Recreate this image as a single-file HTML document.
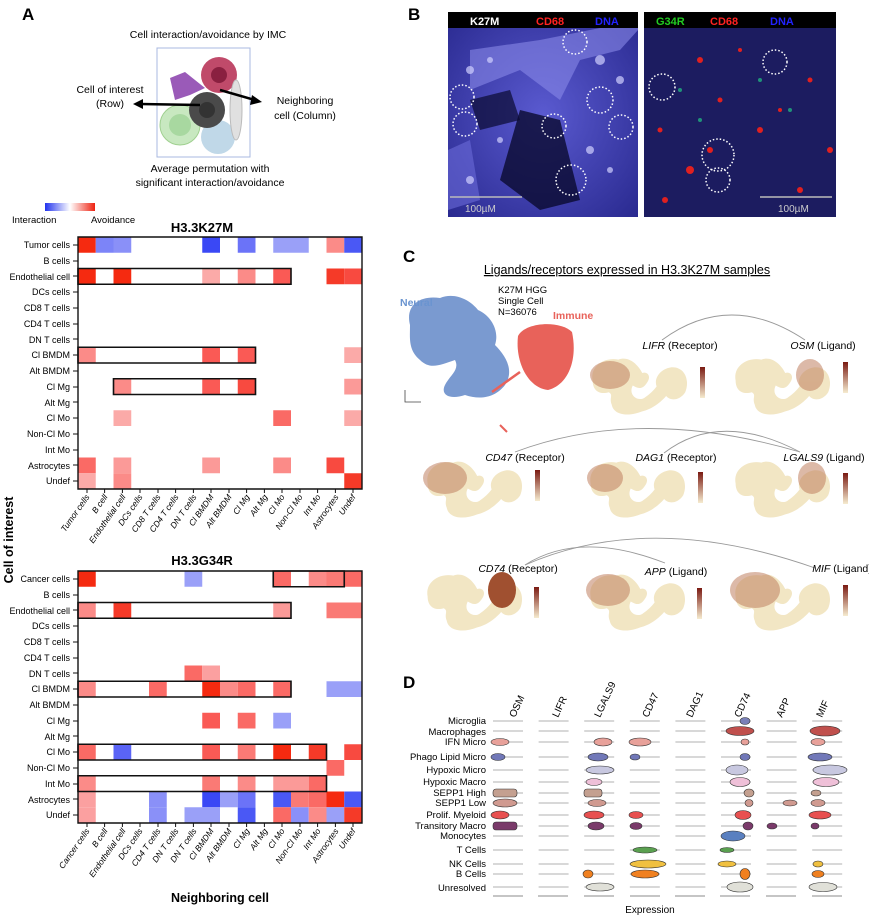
<!DOCTYPE html>
<html><head><meta charset="utf-8"><style>
body{margin:0;background:#fff;}
svg{display:block;font-family:"Liberation Sans",Arial,sans-serif;}
.rl{font-size:9px;text-anchor:end;}
.xl{font-size:8.5px;font-style:italic;text-anchor:end;}
</style></head><body>
<svg width="869" height="919" viewBox="0 0 869 919" xmlns="http://www.w3.org/2000/svg">
<defs>
<linearGradient id="lg" x1="0" x2="1"><stop offset="0" stop-color="#2233ee"/><stop offset="0.5" stop-color="#fff"/><stop offset="1" stop-color="#ee2211"/></linearGradient>
<linearGradient id="cb" x1="0" y1="1" x2="0" y2="0"><stop offset="0" stop-color="#f6ecd0"/><stop offset="1" stop-color="#7a1a12"/></linearGradient>
<radialGradient id="b1" cx="0.5" cy="0.5" r="0.7"><stop offset="0" stop-color="#5a5ad0"/><stop offset="1" stop-color="#2a2a90"/></radialGradient>
<symbol id="um" viewBox="0 0 110 70" preserveAspectRatio="none"><path d="M8 30 C5 15 20 5 35 8 C45 4 55 12 60 22 C65 20 70 25 65 32 C60 40 55 38 50 35 C45 45 55 52 62 48 C68 44 72 40 75 36 C72 28 78 18 90 16 C105 15 110 30 105 42 C100 50 90 52 85 46 C80 52 70 60 60 62 C45 68 30 66 28 55 C25 48 30 45 25 42 C15 45 8 40 8 30Z"/></symbol>
</defs>

<!-- Panel A top -->
<text x="22" y="20" font-size="17" font-weight="bold">A</text>
<text x="208" y="38" font-size="10.5" text-anchor="middle">Cell interaction/avoidance by IMC</text>
<rect x="157" y="48" width="93" height="109" fill="#fff" stroke="#a8b8e0" stroke-width="1"/>
<path d="M170 78 L185 72 L195 80 L205 88 L190 95 L175 100 Z" fill="#9a5ab8"/>
<circle cx="219" cy="75" r="18" fill="#c04a6a"/><circle cx="219" cy="75" r="8" fill="#8a2040"/>
<circle cx="180" cy="125" r="20" fill="#c8e8c0" stroke="#a0d090"/><circle cx="180" cy="125" r="11" fill="#a8d8a0"/>
<circle cx="218" cy="137" r="17" fill="#c0d8e8"/>
<ellipse cx="236" cy="110" rx="6" ry="30" fill="#e0e0e0" stroke="#bbb"/>
<circle cx="207" cy="110" r="18" fill="#4a4a4a"/><circle cx="207" cy="110" r="8" fill="#333"/>
<line x1="200" y1="105" x2="140" y2="104" stroke="#000" stroke-width="2.5"/><path d="M133 104 L143 99 L143 109Z"/>
<line x1="220" y1="90" x2="255" y2="100" stroke="#000" stroke-width="2.5"/><path d="M262 102 L252 95 L250 105Z"/>
<text x="110" y="93" font-size="10.5" text-anchor="middle">Cell of interest</text>
<text x="110" y="107" font-size="10.5" text-anchor="middle">(Row)</text>
<text x="305" y="104" font-size="10.5" text-anchor="middle">Neighboring</text>
<text x="305" y="119" font-size="10.5" text-anchor="middle">cell (Column)</text>
<text x="210" y="172" font-size="10.5" text-anchor="middle">Average permutation with</text>
<text x="210" y="186" font-size="10.5" text-anchor="middle">significant interaction/avoidance</text>

<!-- legend -->
<rect x="45" y="203" width="50" height="8" fill="url(#lg)"/>
<text x="12" y="223" font-size="9.5">Interaction</text>
<text x="91" y="223" font-size="9.5">Avoidance</text>
<text x="202" y="232" font-size="13" font-weight="bold" text-anchor="middle">H3.3K27M</text>
<text x="202" y="565" font-size="13" font-weight="bold" text-anchor="middle">H3.3G34R</text>

<!-- heatmap 1 -->
<g transform="translate(78,237) scale(17.75,15.75)">
<rect x="0" y="0" width="16" height="16" fill="#fff"/>
<rect x="0" y="0" width="1" height="1" fill="#f52a10"/><rect x="1" y="0" width="1" height="1" fill="#7c84f8"/><rect x="2" y="0" width="1" height="1" fill="#8a90f8"/><rect x="7" y="0" width="1" height="1" fill="#3a48f5"/><rect x="9" y="0" width="1" height="1" fill="#6b73f8"/><rect x="11" y="0" width="2" height="1" fill="#9aa0f8"/><rect x="14" y="0" width="1" height="1" fill="#fb8b88"/><rect x="15" y="0" width="1" height="1" fill="#4a58f5"/>
<rect x="0" y="2" width="1" height="1" fill="#f52a10"/><rect x="2" y="2" width="1" height="1" fill="#f52a10"/><rect x="7" y="2" width="1" height="1" fill="#fbaaa8"/><rect x="9" y="2" width="1" height="1" fill="#fb8b88"/><rect x="11" y="2" width="1" height="1" fill="#fa5a55"/><rect x="14" y="2" width="1" height="1" fill="#f53a28"/><rect x="15" y="2" width="1" height="1" fill="#f84a40"/>
<rect x="0" y="7" width="1" height="1" fill="#fb8b88"/><rect x="7" y="7" width="1" height="1" fill="#fa5a55"/><rect x="9" y="7" width="1" height="1" fill="#fa5a55"/><rect x="15" y="7" width="1" height="1" fill="#fbaaa8"/>
<rect x="2" y="9" width="1" height="1" fill="#fb8b88"/><rect x="7" y="9" width="1" height="1" fill="#fa5a55"/><rect x="9" y="9" width="1" height="1" fill="#f84a40"/><rect x="15" y="9" width="1" height="1" fill="#fb9a98"/>
<rect x="2" y="11" width="1" height="1" fill="#fbaaa8"/><rect x="11" y="11" width="1" height="1" fill="#fa6a65"/><rect x="15" y="11" width="1" height="1" fill="#fbaaa8"/>
<rect x="0" y="14" width="1" height="1" fill="#fa6a65"/><rect x="2" y="14" width="1" height="1" fill="#fb9a98"/><rect x="7" y="14" width="1" height="1" fill="#fb9a98"/><rect x="11" y="14" width="1" height="1" fill="#fb8b88"/><rect x="14" y="14" width="1" height="1" fill="#f84a40"/>
<rect x="0" y="15" width="1" height="1" fill="#fbaaa8"/><rect x="2" y="15" width="1" height="1" fill="#fb8b88"/><rect x="15" y="15" width="1" height="1" fill="#f53a28"/>
<g fill="none" stroke="#111">
<rect x="0" y="0" width="16" height="16" vector-effect="non-scaling-stroke" stroke-width="1.4"/>
<rect x="0" y="2" width="12" height="1" vector-effect="non-scaling-stroke" stroke-width="1.6"/>
<rect x="0" y="7" width="10" height="1" vector-effect="non-scaling-stroke" stroke-width="1.6"/>
<rect x="2" y="9" width="8" height="1" vector-effect="non-scaling-stroke" stroke-width="1.6"/>
</g></g>

<!-- heatmap 2 -->
<g transform="translate(78,571) scale(17.75,15.75)">
<rect x="0" y="0" width="16" height="16" fill="#fff"/>
<rect x="0" y="0" width="1" height="1" fill="#f52a10"/><rect x="6" y="0" width="1" height="1" fill="#9aa0f8"/><rect x="11" y="0" width="1" height="1" fill="#fa6a65"/><rect x="13" y="0" width="1" height="1" fill="#fb8b88"/><rect x="14" y="0" width="1" height="1" fill="#fa7a75"/><rect x="15" y="0" width="1" height="1" fill="#fa6a65"/>
<rect x="0" y="2" width="1" height="1" fill="#fb8b88"/><rect x="2" y="2" width="1" height="1" fill="#f53a28"/><rect x="11" y="2" width="1" height="1" fill="#fb9a98"/><rect x="14" y="2" width="2" height="1" fill="#fa7a75"/>
<rect x="6" y="6" width="1" height="1" fill="#fa6a65"/><rect x="7" y="6" width="1" height="1" fill="#fba0a0"/>
<rect x="0" y="7" width="1" height="1" fill="#fb8b88"/><rect x="4" y="7" width="1" height="1" fill="#fa6a65"/><rect x="7" y="7" width="1" height="1" fill="#f52a10"/><rect x="8" y="7" width="1" height="1" fill="#fb8b88"/><rect x="9" y="7" width="1" height="1" fill="#fa6a65"/><rect x="11" y="7" width="1" height="1" fill="#fa6a65"/><rect x="14" y="7" width="2" height="1" fill="#9aa0f8"/>
<rect x="7" y="9" width="1" height="1" fill="#fa5a55"/><rect x="9" y="9" width="1" height="1" fill="#fa6a65"/><rect x="11" y="9" width="1" height="1" fill="#9aa0f8"/>
<rect x="0" y="11" width="1" height="1" fill="#fa6a65"/><rect x="2" y="11" width="1" height="1" fill="#5a64f6"/><rect x="7" y="11" width="1" height="1" fill="#fa5a55"/><rect x="9" y="11" width="1" height="1" fill="#fb7a75"/><rect x="11" y="11" width="1" height="1" fill="#f52a10"/><rect x="13" y="11" width="1" height="1" fill="#f53a28"/><rect x="15" y="11" width="1" height="1" fill="#f84a40"/>
<rect x="14" y="12" width="1" height="1" fill="#fa6a65"/>
<rect x="0" y="13" width="1" height="1" fill="#fb8b88"/><rect x="7" y="13" width="1" height="1" fill="#fa7a75"/><rect x="9" y="13" width="1" height="1" fill="#fb8b88"/><rect x="11" y="13" width="2" height="1" fill="#fb9a98"/><rect x="13" y="13" width="1" height="1" fill="#fa6a65"/>
<rect x="0" y="14" width="1" height="1" fill="#fba0a0"/><rect x="4" y="14" width="1" height="1" fill="#8a90f8"/><rect x="7" y="14" width="1" height="1" fill="#3a48f5"/><rect x="8" y="14" width="1" height="1" fill="#9aa0f8"/><rect x="9" y="14" width="1" height="1" fill="#6b73f8"/><rect x="11" y="14" width="1" height="1" fill="#4a58f5"/><rect x="12" y="14" width="1" height="1" fill="#fa7a75"/><rect x="13" y="14" width="1" height="1" fill="#fa6a65"/><rect x="14" y="14" width="1" height="1" fill="#f52a10"/><rect x="15" y="14" width="1" height="1" fill="#4a58f5"/>
<rect x="0" y="15" width="1" height="1" fill="#fba0a0"/><rect x="4" y="15" width="1" height="1" fill="#8a90f8"/><rect x="6" y="15" width="2" height="1" fill="#9aa0f8"/><rect x="9" y="15" width="1" height="1" fill="#4a58f5"/><rect x="11" y="15" width="1" height="1" fill="#fa6a65"/><rect x="12" y="15" width="1" height="1" fill="#8a90f8"/><rect x="13" y="15" width="1" height="1" fill="#fb8b88"/><rect x="14" y="15" width="1" height="1" fill="#9aa0f8"/><rect x="15" y="15" width="1" height="1" fill="#f53a28"/>
<g fill="none" stroke="#111">
<rect x="0" y="0" width="16" height="16" vector-effect="non-scaling-stroke" stroke-width="1.4"/>
<rect x="11" y="0" width="4" height="1" vector-effect="non-scaling-stroke" stroke-width="1.6"/>
<rect x="0" y="2" width="12" height="1" vector-effect="non-scaling-stroke" stroke-width="1.6"/>
<rect x="0" y="7" width="12" height="1" vector-effect="non-scaling-stroke" stroke-width="1.6"/>
<rect x="0" y="11" width="14" height="1" vector-effect="non-scaling-stroke" stroke-width="1.6"/>
<rect x="0" y="13" width="14" height="1" vector-effect="non-scaling-stroke" stroke-width="1.6"/>
</g></g>

<!-- row labels -->
<g class="rl">
<text x="70" y="248">Tumor cells</text><text x="70" y="264">B cells</text><text x="70" y="280">Endothelial cell</text><text x="70" y="295">DCs cells</text><text x="70" y="311">CD8 T cells</text><text x="70" y="327">CD4 T cells</text><text x="70" y="343">DN T cells</text><text x="70" y="358">Cl BMDM</text><text x="70" y="374">Alt BMDM</text><text x="70" y="390">Cl Mg</text><text x="70" y="406">Alt Mg</text><text x="70" y="421">Cl Mo</text><text x="70" y="437">Non-Cl Mo</text><text x="70" y="453">Int Mo</text><text x="70" y="469">Astrocytes</text><text x="70" y="484">Undef</text>
</g>
<g class="rl">
<text x="70" y="582">Cancer cells</text><text x="70" y="598">B cells</text><text x="70" y="614">Endothelial cell</text><text x="70" y="629">DCs cells</text><text x="70" y="645">CD8 T cells</text><text x="70" y="661">CD4 T cells</text><text x="70" y="677">DN T cells</text><text x="70" y="692">Cl BMDM</text><text x="70" y="708">Alt BMDM</text><text x="70" y="724">Cl Mg</text><text x="70" y="740">Alt Mg</text><text x="70" y="755">Cl Mo</text><text x="70" y="771">Non-Cl Mo</text><text x="70" y="787">Int Mo</text><text x="70" y="803">Astrocytes</text><text x="70" y="818">Undef</text>
</g>
<path d="M73 245h5M73 261h5M73 276h5M73 292h5M73 308h5M73 324h5M73 339h5M73 355h5M73 371h5M73 387h5M73 402h5M73 418h5M73 434h5M73 450h5M73 465h5M73 481h5M73 579h5M73 595h5M73 610h5M73 626h5M73 642h5M73 658h5M73 673h5M73 689h5M73 705h5M73 721h5M73 736h5M73 752h5M73 768h5M73 784h5M73 799h5M73 815h5" stroke="#111" stroke-width="1"/>
<path d="M87 489v4M104.6 489v4M122.4 489v4M140 489v4M158 489v4M175.6 489v4M193.4 489v4M211 489v4M229 489v4M246.6 489v4M264.4 489v4M282 489v4M300 489v4M317.6 489v4M335.4 489v4M353 489v4M87 823v4M104.6 823v4M122.4 823v4M140 823v4M158 823v4M175.6 823v4M193.4 823v4M211 823v4M229 823v4M246.6 823v4M264.4 823v4M282 823v4M300 823v4M317.6 823v4M335.4 823v4M353 823v4" stroke="#111"/>
<g class="xl">
<text transform="translate(90,497) rotate(-55)">Tumor cells</text><text transform="translate(108,497) rotate(-55)">B cell</text><text transform="translate(126,497) rotate(-55)">Endothelial cell</text><text transform="translate(143,497) rotate(-55)">DCs cells</text><text transform="translate(161,497) rotate(-55)">CD8 T cells</text><text transform="translate(179,497) rotate(-55)">CD4 T cells</text><text transform="translate(197,497) rotate(-55)">DN T cells</text><text transform="translate(214,497) rotate(-55)">Cl BMDM</text><text transform="translate(232,497) rotate(-55)">Alt BMDM</text><text transform="translate(250,497) rotate(-55)">Cl Mg</text><text transform="translate(268,497) rotate(-55)">Alt Mg</text><text transform="translate(285,497) rotate(-55)">Cl Mo</text><text transform="translate(303,497) rotate(-55)">Non-Cl Mo</text><text transform="translate(321,497) rotate(-55)">Int Mo</text><text transform="translate(339,497) rotate(-55)">Astrocytes</text><text transform="translate(356,497) rotate(-55)">Undef</text>
</g>
<g class="xl">
<text transform="translate(90,831) rotate(-55)">Cancer cells</text><text transform="translate(108,831) rotate(-55)">B cell</text><text transform="translate(126,831) rotate(-55)">Endothelial cell</text><text transform="translate(143,831) rotate(-55)">DCs cells</text><text transform="translate(161,831) rotate(-55)">CD4 T cells</text><text transform="translate(179,831) rotate(-55)">DN T cells</text><text transform="translate(197,831) rotate(-55)">DN T cells</text><text transform="translate(214,831) rotate(-55)">Cl BMDM</text><text transform="translate(232,831) rotate(-55)">Alt BMDM</text><text transform="translate(250,831) rotate(-55)">Cl Mg</text><text transform="translate(268,831) rotate(-55)">Alt Mg</text><text transform="translate(285,831) rotate(-55)">Cl Mo</text><text transform="translate(303,831) rotate(-55)">Non-Cl Mo</text><text transform="translate(321,831) rotate(-55)">Int Mo</text><text transform="translate(339,831) rotate(-55)">Astrocytes</text><text transform="translate(356,831) rotate(-55)">Undef</text>
</g>
<text transform="translate(13,540) rotate(-90)" font-size="12.5" font-weight="bold" text-anchor="middle">Cell of interest</text>
<text x="220" y="902" font-size="12.5" font-weight="bold" text-anchor="middle">Neighboring cell</text>

<!-- Panel B -->
<text x="408" y="20" font-size="17" font-weight="bold">B</text>
<rect x="448" y="12" width="190" height="205" fill="url(#b1)"/>
<rect x="448" y="12" width="190" height="16" fill="#000"/>
<path d="M470 90 L520 70 L560 100 L580 60 L620 50 L638 30 L638 28 L600 28 L540 40 L470 50Z" fill="#8888e8" opacity="0.6"/>
<path d="M520 110 L560 120 L580 200 L540 210 L500 180Z" fill="#0a0a30" opacity="0.8"/>
<path d="M448 150 L470 140 L480 200 L448 210Z" fill="#6a6ad8" opacity="0.6"/>
<path d="M470 100 L510 90 L520 120 L480 130Z" fill="#0a0a30" opacity="0.7"/>
<g fill="#d0d0ff" opacity="0.7"><circle cx="470" cy="70" r="4"/><circle cx="490" cy="60" r="3"/><circle cx="600" cy="60" r="5"/><circle cx="620" cy="80" r="4"/><circle cx="590" cy="150" r="4"/><circle cx="610" cy="170" r="3"/><circle cx="470" cy="180" r="4"/><circle cx="500" cy="140" r="3"/></g>
<g fill="none" stroke="#fff" stroke-width="1.5" stroke-dasharray="1.5 2">
<circle cx="575" cy="42" r="12"/><circle cx="462" cy="97" r="12"/><circle cx="465" cy="124" r="12"/><circle cx="554" cy="126" r="12"/><circle cx="600" cy="100" r="13"/><circle cx="621" cy="127" r="12"/><circle cx="571" cy="180" r="15"/>
</g>
<text x="470" y="25" font-size="11" font-weight="bold" fill="#fff">K27M</text>
<text x="536" y="25" font-size="11" font-weight="bold" fill="#f22">CD68</text>
<text x="595" y="25" font-size="11" font-weight="bold" fill="#22f">DNA</text>
<line x1="450" y1="197" x2="522" y2="197" stroke="#bbb" stroke-width="1.5"/>
<text x="465" y="212" font-size="10" fill="#ccc">100µM</text>
<rect x="644" y="12" width="192" height="205" fill="#1c1c60"/>
<rect x="644" y="12" width="192" height="16" fill="#000"/>
<g fill="#e02020"><circle cx="700" cy="60" r="3"/><circle cx="720" cy="100" r="2.5"/><circle cx="760" cy="130" r="3"/><circle cx="690" cy="170" r="4"/><circle cx="810" cy="80" r="2.5"/><circle cx="800" cy="190" r="3"/><circle cx="740" cy="50" r="2"/><circle cx="710" cy="150" r="3"/><circle cx="830" cy="150" r="3"/><circle cx="665" cy="200" r="3"/><circle cx="780" cy="110" r="2"/><circle cx="660" cy="130" r="2.5"/></g>
<g fill="#20b080" opacity="0.8"><circle cx="760" cy="80" r="2"/><circle cx="700" cy="120" r="2"/><circle cx="790" cy="110" r="2"/><circle cx="680" cy="90" r="2"/></g>
<g fill="none" stroke="#fff" stroke-width="1.5" stroke-dasharray="1.5 2">
<circle cx="662" cy="87" r="13"/><circle cx="775" cy="62" r="12"/><circle cx="718" cy="155" r="16"/><circle cx="718" cy="180" r="12"/>
</g>
<text x="656" y="25" font-size="11" font-weight="bold" fill="#2c2">G34R</text>
<text x="710" y="25" font-size="11" font-weight="bold" fill="#f22">CD68</text>
<text x="770" y="25" font-size="11" font-weight="bold" fill="#22f">DNA</text>
<line x1="760" y1="197" x2="832" y2="197" stroke="#bbb" stroke-width="1.5"/>
<text x="778" y="212" font-size="10" fill="#ccc">100µM</text>

<!-- Panel C -->
<text x="403" y="262" font-size="17" font-weight="bold">C</text>
<text x="627" y="274" font-size="12.5" text-anchor="middle" text-decoration="underline">Ligands/receptors expressed in H3.3K27M samples</text>
<path d="M410 325 C405 305 420 295 440 298 C455 292 470 300 478 310 C490 315 500 330 495 345 C505 355 515 370 505 385 C495 398 480 400 465 395 C450 400 440 395 445 385 C450 375 460 370 455 360 C440 365 430 370 420 360 C408 350 410 338 410 325Z" fill="#7a9ad0"/>
<path d="M518 336 C525 322 560 320 572 332 C578 360 568 385 548 390 C528 388 515 362 518 336Z" fill="#e8625a"/>
<path d="M492 392 L520 372" stroke="#e8625a" stroke-width="2.5"/>
<path d="M500 425 L507 432" stroke="#e8625a" stroke-width="2"/>
<text x="400" y="306" font-size="10.5" font-weight="bold" fill="#6a94d0">Neural</text>
<text x="553" y="319" font-size="10.5" font-weight="bold" fill="#e8625a">Immune</text>
<text x="498" y="293" font-size="9.5">K27M HGG</text>
<text x="498" y="304" font-size="9.5">Single Cell</text>
<text x="498" y="315" font-size="9.5">N=36076</text>
<path d="M405 390v12h16" stroke="#444" fill="none" stroke-width="0.8"/>
<g fill="none" stroke="#999" stroke-width="0.9">
<path d="M662 340 Q730 290 805 340"/>
<path d="M515 452 Q640 405 800 452"/>
<path d="M664 453 Q720 410 800 452"/>
<path d="M525 565 Q580 530 665 563"/>
<path d="M525 565 Q650 510 815 568"/>
</g>
<g fill="#f2e6c4">
<use href="#um" x="585" y="352" width="105" height="67"/>
<use href="#um" x="728" y="352" width="105" height="67"/>
<use href="#um" x="420" y="455" width="105" height="67"/>
<use href="#um" x="583" y="455" width="105" height="67"/>
<use href="#um" x="728" y="455" width="105" height="67"/>
<use href="#um" x="420" y="568" width="105" height="67"/>
<use href="#um" x="583" y="568" width="105" height="67"/>
<use href="#um" x="728" y="568" width="105" height="67"/>
</g>
<g fill="#c08060" opacity="0.55">
<ellipse cx="610" cy="375" rx="20" ry="14"/><ellipse cx="810" cy="375" rx="14" ry="16"/>
<ellipse cx="445" cy="478" rx="22" ry="16"/><ellipse cx="605" cy="478" rx="18" ry="14"/><ellipse cx="812" cy="478" rx="14" ry="16"/>
<ellipse cx="608" cy="590" rx="22" ry="16"/><ellipse cx="755" cy="590" rx="25" ry="18"/>
</g>
<ellipse cx="502" cy="590" rx="14" ry="18" fill="#a05030"/>
<g font-size="10.5" text-anchor="middle">
<text x="680" y="349"><tspan font-style="italic">LIFR</tspan> (Receptor)</text>
<text x="823" y="349"><tspan font-style="italic">OSM</tspan> (Ligand)</text>
<text x="525" y="461"><tspan font-style="italic">CD47</tspan> (Receptor)</text>
<text x="676" y="461"><tspan font-style="italic">DAG1</tspan> (Receptor)</text>
<text x="824" y="461"><tspan font-style="italic">LGALS9</tspan> (Ligand)</text>
<text x="518" y="572"><tspan font-style="italic">CD74</tspan> (Receptor)</text>
<text x="676" y="575"><tspan font-style="italic">APP</tspan> (Ligand)</text>
<text x="842" y="572"><tspan font-style="italic">MIF</tspan> (Ligand)</text>
</g>
<g fill="url(#cb)">
<rect x="700" y="367" width="5" height="31"/><rect x="843" y="362" width="5" height="31"/>
<rect x="535" y="470" width="5" height="31"/><rect x="698" y="472" width="5" height="31"/><rect x="843" y="473" width="5" height="31"/>
<rect x="534" y="587" width="5" height="31"/><rect x="697" y="588" width="5" height="31"/><rect x="843" y="585" width="5" height="31"/>
</g>

<!-- Panel D -->
<text x="403" y="688" font-size="17" font-weight="bold">D</text>
<g font-size="10" text-anchor="start">
<text transform="translate(515,718) rotate(-65)">OSM</text>
<text transform="translate(558,718) rotate(-65)">LIFR</text>
<text transform="translate(600,718) rotate(-65)">LGALS9</text>
<text transform="translate(648,718) rotate(-65)">CD47</text>
<text transform="translate(692,718) rotate(-65)">DAG1</text>
<text transform="translate(740,718) rotate(-65)">CD74</text>
<text transform="translate(782,718) rotate(-65)">APP</text>
<text transform="translate(822,718) rotate(-65)">MIF</text>
</g>
<g font-size="9.5" text-anchor="end">
<text x="486" y="724">Microglia</text><text x="486" y="735">Macrophages</text><text x="486" y="745">IFN Micro</text><text x="486" y="760">Phago Lipid Micro</text><text x="486" y="773">Hypoxic Micro</text><text x="486" y="785">Hypoxic Macro</text><text x="486" y="796">SEPP1 High</text><text x="486" y="806">SEPP1 Low</text><text x="486" y="818">Prolif. Myeloid</text><text x="486" y="829">Transitory Macro</text><text x="486" y="839">Monocytes</text><text x="486" y="853">T Cells</text><text x="486" y="867">NK Cells</text><text x="486" y="877">B Cells</text><text x="486" y="891">Unresolved</text>
</g>
<g stroke="#999" stroke-width="0.7" stroke-dasharray="30 15.6">
<path d="M493 721H852M493 731H852M493 742H852M493 757H852M493 770H852M493 782H852M493 793H852M493 803H852M493 815H852M493 826H852M493 836H852M493 850H852M493 864H852M493 874H852M493 887H852"/>
</g>
<g stroke="#333" stroke-width="0.6">
<ellipse cx="500" cy="742" rx="9" ry="3.5" fill="#e8a19a"/><ellipse cx="498" cy="757" rx="7" ry="3.5" fill="#7178b8"/>
<rect x="493" y="789" width="24" height="8" rx="3" fill="#c4a090"/><ellipse cx="505" cy="803" rx="12" ry="4" fill="#d09a90"/><ellipse cx="500" cy="815" rx="9" ry="4" fill="#e85050"/><rect x="493" y="822" width="24" height="8" rx="3" fill="#7a3a6a"/>
<ellipse cx="603" cy="742" rx="9" ry="4" fill="#e8a19a"/><ellipse cx="598" cy="757" rx="10" ry="4" fill="#7178b8"/><ellipse cx="600" cy="770" rx="14" ry="4" fill="#c8c8e0"/><ellipse cx="594" cy="782" rx="8" ry="3.5" fill="#efc0d8"/><rect x="584" y="789" width="18" height="8" rx="3" fill="#c4a090"/><ellipse cx="597" cy="803" rx="9" ry="3.5" fill="#d09a90"/><ellipse cx="594" cy="815" rx="10" ry="4" fill="#e85050"/><ellipse cx="596" cy="826" rx="8" ry="4" fill="#7a3a6a"/><ellipse cx="600" cy="887" rx="14" ry="4" fill="#e0e0d8"/><ellipse cx="588" cy="874" rx="5" ry="4" fill="#f08020"/>
<ellipse cx="640" cy="742" rx="11" ry="4" fill="#e8a19a"/><ellipse cx="635" cy="757" rx="5" ry="3" fill="#7178b8"/><ellipse cx="636" cy="815" rx="7" ry="3.5" fill="#e85050"/><ellipse cx="636" cy="826" rx="6" ry="3.5" fill="#7a3a6a"/><ellipse cx="645" cy="850" rx="12" ry="3" fill="#5aa050"/><ellipse cx="648" cy="864" rx="18" ry="4" fill="#f0c040"/><ellipse cx="645" cy="874" rx="14" ry="4" fill="#f08020"/>
<ellipse cx="745" cy="721" rx="5" ry="3.5" fill="#7a80b8"/><ellipse cx="740" cy="731" rx="14" ry="4.5" fill="#c0504d"/><ellipse cx="745" cy="742" rx="4" ry="3" fill="#e8a19a"/><ellipse cx="745" cy="757" rx="5" ry="3.5" fill="#7178b8"/><ellipse cx="737" cy="770" rx="11" ry="5" fill="#c8c8e0"/><ellipse cx="740" cy="782" rx="10" ry="4.5" fill="#efc0d8"/><ellipse cx="749" cy="793" rx="5" ry="4" fill="#c4a090"/><ellipse cx="749" cy="803" rx="4" ry="3.5" fill="#d09a90"/><ellipse cx="743" cy="815" rx="8" ry="4.5" fill="#e85050"/><ellipse cx="748" cy="826" rx="5" ry="4" fill="#7a3a6a"/><ellipse cx="733" cy="836" rx="12" ry="5" fill="#5a80c0"/><ellipse cx="727" cy="850" rx="7" ry="2.5" fill="#5aa050"/><ellipse cx="727" cy="864" rx="9" ry="3" fill="#f0c040"/><ellipse cx="745" cy="874" rx="5" ry="5.5" fill="#f08020"/><ellipse cx="740" cy="887" rx="13" ry="5" fill="#e0e0d8"/>
<ellipse cx="825" cy="731" rx="15" ry="5" fill="#c0504d"/><ellipse cx="818" cy="742" rx="7" ry="3.5" fill="#e8a19a"/><ellipse cx="820" cy="757" rx="12" ry="4" fill="#7178b8"/><ellipse cx="830" cy="770" rx="17" ry="5" fill="#c8c8e0"/><ellipse cx="826" cy="782" rx="13" ry="4.5" fill="#efc0d8"/><ellipse cx="816" cy="793" rx="5" ry="3" fill="#c4a090"/><ellipse cx="818" cy="803" rx="7" ry="3.5" fill="#d09a90"/><ellipse cx="820" cy="815" rx="11" ry="4" fill="#e85050"/><ellipse cx="815" cy="826" rx="4" ry="3" fill="#7a3a6a"/><ellipse cx="818" cy="864" rx="5" ry="3" fill="#f0c040"/><ellipse cx="818" cy="874" rx="6" ry="3.5" fill="#f08020"/><ellipse cx="823" cy="887" rx="14" ry="4.5" fill="#e0e0d8"/>
<ellipse cx="790" cy="803" rx="7" ry="3" fill="#d09a90"/><ellipse cx="772" cy="826" rx="5" ry="3" fill="#7a3a6a"/>
</g>
<g stroke="#666" stroke-width="0.7"><path d="M493 896h30M538 896h30M584 896h30M630 896h30M675 896h30M720 896h30M766 896h30M812 896h30"/></g>
<text x="650" y="913" font-size="10" text-anchor="middle">Expression</text>
</svg>
</body></html>
